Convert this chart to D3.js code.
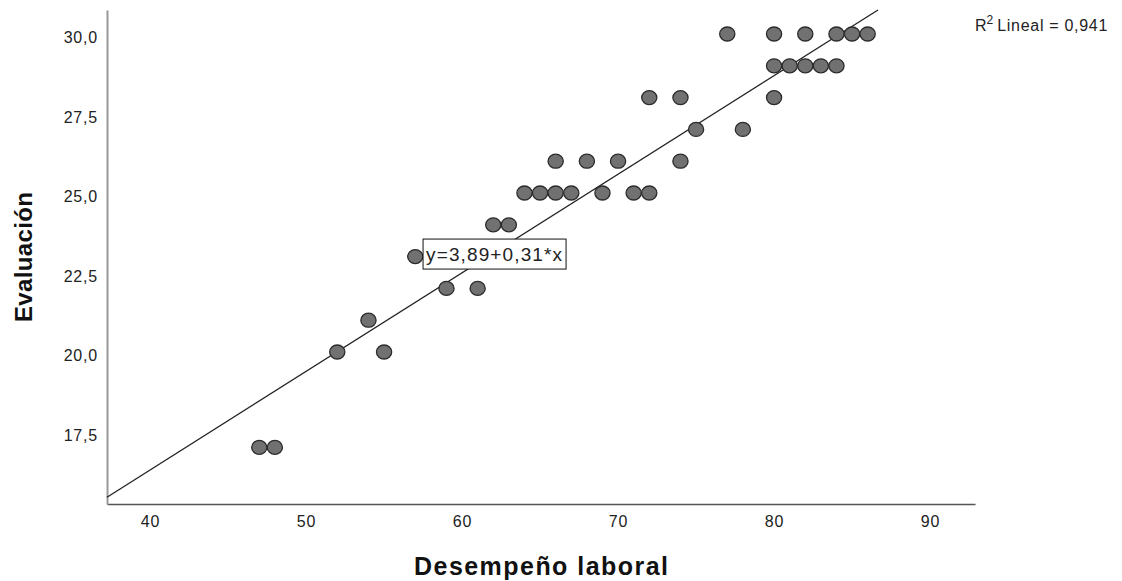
<!DOCTYPE html>
<html>
<head>
<meta charset="utf-8">
<script src="https://cdn.jsdelivr.net/npm/d3@7/dist/d3.min.js"></script>
<style type="text/css">
	body{ margin:0; background:#fff; }
	text{ font-family: Arial, "Liberation Sans", sans-serif; }
	.tick text{ font-size:16px; fill:#222; letter-spacing:0.8px; }
</style>
</head>
<body>
<div id="chart"></div>
<script type="text/javascript">
/* datos: desempeño laboral (x) y evaluación (y) */
var desempeno = [47,48,52,54,55,57,59,61,62,63,
	64,65,66,67,69,71,72,66,68,70,74,
	75,78,72,74,80,80,81,82,83,84,
	77,80,82,84,85,86];
var evaluacion = [17,17,20,21,20,23,22,22,24,24,
	25,25,25,25,25,25,25,26,26,26,26,
	27,27,28,28,28,29,29,29,29,29,
	30,30,30,30,30,30];
var x_ticks = [40,50,60,70,80,90];
var y_ticks = [17.5,20,22.5,25,27.5,30];
var fit_a = 3.89, fit_b = 0.31, r2 = "0,941";
var fit_label = "y=3,89+0,31*x";

var w = 1122, h = 581;
var m_left = 107, m_right = 975, m_top = 10, m_bottom = 504;
var svg = d3.select("#chart").append("svg").attr("width",w).attr("height",h);

var x_scale = d3.scaleLinear().domain([37.24,92.88]).range([m_left,m_right]);
var y_scale = d3.scaleLinear().domain([15.22,30.755]).range([m_bottom,m_top]);
var fmt = function(d){ return d3.format(".1f")(d).replace(".",","); };

/* ejes */
var xa = svg.append("g").attr("transform","translate(0,"+m_bottom+")")
	.call(d3.axisBottom(x_scale).tickValues(x_ticks).tickSize(0).tickPadding(12));
xa.select("path.domain").attr("stroke","#555").attr("stroke-width",1.5);
var ya = svg.append("g").attr("transform","translate("+m_left+",0)")
	.call(d3.axisLeft(y_scale).tickValues(y_ticks).tickFormat(fmt).tickSize(0).tickPadding(9));
ya.select("path.domain").attr("stroke","#999").attr("stroke-width",2);
ya.selectAll(".tick text").attr("dy","0.55em");

/* recta de ajuste */
var x0 = x_scale.domain()[0];
var x1 = (y_scale.domain()[1]-fit_a)/fit_b;
svg.append("line")
	.attr("x1",x_scale(x0)).attr("y1",y_scale(fit_a+fit_b*x0))
	.attr("x2",x_scale(x1)).attr("y2",y_scale(fit_a+fit_b*x1))
	.attr("stroke","#222").attr("stroke-width",1.3);

/* puntos */
var pts = desempeno.map(function(d,i){ return {x:d,y:evaluacion[i]}; });
svg.append("g").selectAll("ellipse").data(pts).enter().append("ellipse")
	.attr("cx",function(d){ return x_scale(d.x); })
	.attr("cy",function(d){ return y_scale(d.y); })
	.attr("rx",7.6).attr("ry",7)
	.attr("fill","#717171").attr("stroke","#2b2b2b").attr("stroke-width",1.3);

/* etiqueta de la ecuación */
var lx = x_scale(57.5), ly = y_scale(23.08);
var lab = svg.append("g");
lab.append("rect").attr("x",lx).attr("y",ly-15).attr("width",143).attr("height",30)
	.attr("fill","#fff").attr("stroke","#111").attr("stroke-width",1);
lab.append("text").attr("x",lx+3).attr("y",ly+7).attr("font-size","19px").attr("fill","#222")
	.attr("textLength",136).attr("lengthAdjust","spacing").text(fit_label);

/* R cuadrado */
var rt = svg.append("text").attr("x",975).attr("y",31).attr("font-size","16px").attr("fill","#222");
rt.append("tspan").text("R");
rt.append("tspan").attr("font-size","12px").attr("dy","-7").text("2");
rt.append("tspan").attr("dy","7").attr("dx","4").attr("letter-spacing","0.7px").text("Lineal = "+r2);

/* títulos */
svg.append("text").attr("x",(m_left+m_right)/2).attr("y",575).attr("text-anchor","middle")
	.attr("font-size","25px").attr("font-weight","bold").attr("fill","#111")
	.attr("textLength",254).attr("lengthAdjust","spacing").text("Desempeño laboral");
svg.append("text").attr("transform","translate(32,"+((m_top+m_bottom)/2)+") rotate(-90)")
	.attr("text-anchor","middle")
	.attr("font-size","24px").attr("font-weight","bold").attr("fill","#111")
	.attr("textLength",130).attr("lengthAdjust","spacing").text("Evaluación");
</script>
</body>
</html>
